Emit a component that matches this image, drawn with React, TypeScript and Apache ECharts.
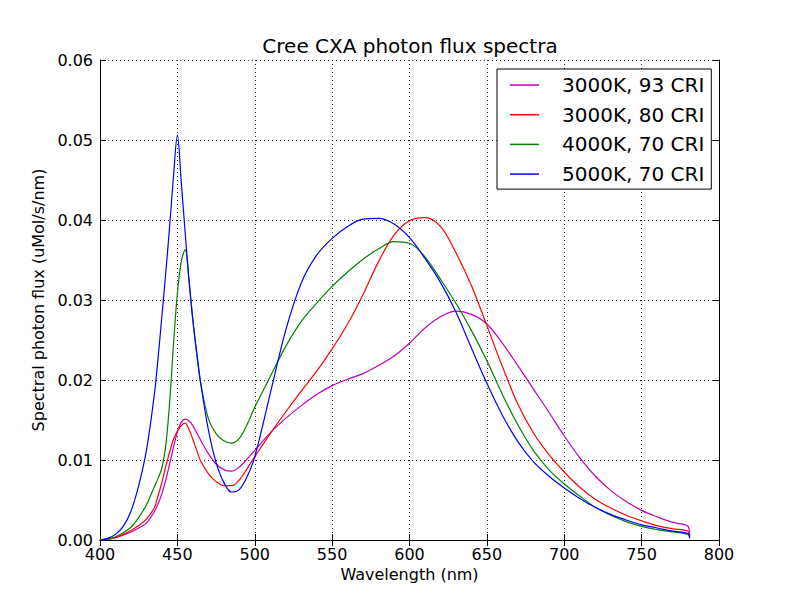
import React, { useEffect, useRef } from "react";
import * as echarts from "echarts";

const wavelengths = [
  400, 405, 410, 415, 420, 425, 430, 435, 437.5, 440, 442.5, 445, 447.5, 450, 452.5, 455, 457.5, 460, 462.5, 465,
  470, 475, 480, 485, 490, 495, 500,
  510, 520, 530, 540, 550, 560, 570, 580, 590, 600, 610, 620, 630, 640, 650, 660, 670, 680, 690, 700,
  710, 720, 730, 740, 750, 760, 770, 780, 781,
];

const cri93_3000K = [
  0, 0.0001, 0.0003, 0.0006, 0.001, 0.0015, 0.0021, 0.0035, 0.0045, 0.0058, 0.0075, 0.0095, 0.0116, 0.0135, 0.0147, 0.0151, 0.0149, 0.0143, 0.0134, 0.0125,
  0.0108, 0.0095, 0.0088, 0.0086, 0.0091, 0.0101, 0.0112,
  0.0134, 0.0152, 0.0168, 0.0182, 0.0193, 0.0201, 0.0208, 0.0218, 0.023, 0.0246, 0.0265, 0.0279, 0.0286, 0.0282, 0.027, 0.0246, 0.0218, 0.0189, 0.016, 0.013,
  0.0103, 0.008, 0.0062, 0.0048, 0.0037, 0.0029, 0.0022, 0.0017, 0.0003,
];

const cri80_3000K = [
  0, 0.0001, 0.0003, 0.0007, 0.0012, 0.0018, 0.0026, 0.004, 0.0055, 0.0072, 0.0092, 0.011, 0.0126, 0.0136, 0.0143, 0.0146, 0.0138, 0.0126, 0.0112, 0.0099,
  0.0083, 0.0073, 0.0068, 0.0068, 0.0075, 0.0089, 0.0104,
  0.0133, 0.016, 0.0186, 0.0211, 0.0239, 0.027, 0.0307, 0.0348, 0.0381, 0.0399, 0.0403, 0.0392, 0.0359, 0.0318, 0.0268, 0.0217, 0.017, 0.0134, 0.0107, 0.0085,
  0.0066, 0.0051, 0.004, 0.0031, 0.0024, 0.0018, 0.0014, 0.0011, 0.0004,
];

const cri70_4000K = [
  0, 0.0001, 0.0004, 0.0009, 0.0016, 0.0028, 0.0044, 0.0066, 0.0077, 0.009, 0.0118, 0.0172, 0.0245, 0.0308, 0.0348, 0.0363, 0.0325, 0.0275, 0.0232, 0.0197,
  0.0152, 0.0133, 0.0124, 0.0121, 0.0127, 0.0144, 0.0166,
  0.0204, 0.0242, 0.0273, 0.0296, 0.0317, 0.0335, 0.0351, 0.0364, 0.0373, 0.0371, 0.0354, 0.0326, 0.0296, 0.0262, 0.0224, 0.0182, 0.0144, 0.0112, 0.0088, 0.007,
  0.0055, 0.0041, 0.0031, 0.0023, 0.0017, 0.0013, 0.001, 0.0007, 0.0003,
];

const cri70_5000K = [
  0, 0.0002, 0.0007, 0.0017, 0.0036, 0.0068, 0.0112, 0.018, 0.0227, 0.028, 0.0334, 0.0392, 0.0455, 0.0506, 0.0448, 0.0385, 0.0325, 0.0275, 0.0235, 0.0197,
  0.0138, 0.0097, 0.0072, 0.006, 0.0063, 0.0079, 0.0104,
  0.0183, 0.0262, 0.0321, 0.0356, 0.0377, 0.0392, 0.0401, 0.0402, 0.0395, 0.0378, 0.0352, 0.0322, 0.0285, 0.024, 0.0196, 0.0156, 0.0123, 0.0098, 0.008, 0.0065,
  0.0052, 0.0041, 0.0032, 0.0025, 0.0019, 0.0015, 0.0011, 0.0008, 0.0002,
];

const seriesNames = ["3000K, 93 CRI", "3000K, 80 CRI", "4000K, 70 CRI", "5000K, 70 CRI"];
const seriesValues = [cri93_3000K, cri80_3000K, cri70_4000K, cri70_5000K];
const seriesColors = ["#bf00bf", "#ff0000", "#008000", "#0000ff"];

const FONT = "DejaVu Sans";

export default function App() {
  const ref = useRef<HTMLDivElement>(null);
  useEffect(() => {
    if (!ref.current) return;
    const chart = echarts.init(ref.current, null, { renderer: "svg" });
    const gridLine = { show: true, lineStyle: { color: "#000", width: 0.8, type: [1, 3] as any } };
    const axisLine = { show: true, lineStyle: { color: "#000", width: 1 } };
    const tick = { show: true, inside: true, length: 6, lineStyle: { color: "#000" } };
    chart.setOption({
      animation: false,
      backgroundColor: "#fff",
      textStyle: { fontFamily: FONT },
      grid: { left: 100, right: 68, top: 60, bottom: 60, containLabel: false },
      graphic: [
        {
          type: "text",
          x: 410,
          y: 46,
          style: {
            text: "Cree CXA photon flux spectra",
            font: `20px "${FONT}"`,
            fill: "#000",
            textAlign: "center",
            textVerticalAlign: "middle",
          },
        },
      ],
      legend: {
        left: 497,
        top: 69,
        orient: "vertical",
        data: seriesNames,
        icon: "rect",
        itemWidth: 29,
        itemHeight: 1.5,
        itemGap: 9.7,
        padding: [6, 7, 5, 13],
        borderColor: "#000",
        borderWidth: 1,
        backgroundColor: "#fff",
        textStyle: { fontFamily: FONT, fontSize: 20, color: "#000", lineHeight: 20, padding: [0, 0, 0, 18] },
      },
      xAxis: [
        {
          type: "value",
          min: 400,
          max: 800,
          interval: 50,
          name: "Wavelength (nm)",
          nameLocation: "middle",
          nameGap: 25,
          nameTextStyle: { fontFamily: FONT, fontSize: 16, color: "#000" },
          axisLine,
          axisTick: tick,
          axisLabel: { fontFamily: FONT, fontSize: 16, color: "#000", margin: 6 },
          splitLine: gridLine,
        },
        {
          type: "value",
          position: "top",
          min: 400,
          max: 800,
          interval: 50,
          axisLine,
          axisTick: tick,
          axisLabel: { show: false },
          splitLine: { show: false },
        },
      ],
      yAxis: [
        {
          type: "value",
          min: 0,
          max: 0.06,
          interval: 0.01,
          name: "Spectral photon flux (uMol/s/nm)",
          nameLocation: "middle",
          nameGap: 52,
          nameTextStyle: { fontFamily: FONT, fontSize: 16, color: "#000" },
          axisLine,
          axisTick: tick,
          axisLabel: { fontFamily: FONT, fontSize: 16, color: "#000", margin: 7, formatter: (v: number) => v.toFixed(2) },
          splitLine: gridLine,
        },
        {
          type: "value",
          position: "right",
          min: 0,
          max: 0.06,
          interval: 0.01,
          axisLine,
          axisTick: tick,
          axisLabel: { show: false },
          splitLine: { show: false },
        },
      ],
      series: seriesNames.map((name, i) => ({
        name,
        type: "line",
        xAxisIndex: 0,
        yAxisIndex: 0,
        showSymbol: false,
        symbol: "none",
        smooth: 0.35,
        color: seriesColors[i],
        lineStyle: { color: seriesColors[i], width: 1.2 },
        data: wavelengths.map((w, j) => [w, seriesValues[i][j]]),
      })),
    });
    return () => chart.dispose();
  }, []);
  return <div ref={ref} style={{ position: "fixed", left: 0, top: 0, width: 787, height: 600 }} />;
}
